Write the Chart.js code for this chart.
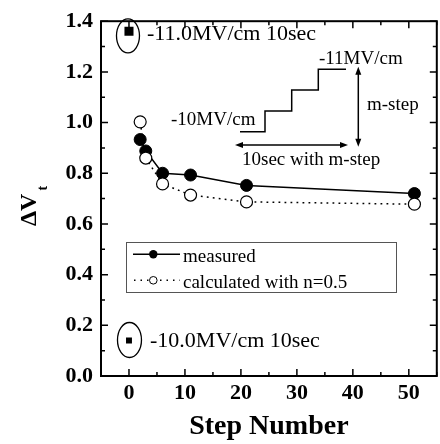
<!DOCTYPE html>
<html><head><meta charset="utf-8">
<style>html,body{margin:0;padding:0;overflow:hidden;background:#fff;} #wrap{width:444px;height:444px;}</style>
<script src="https://cdn.jsdelivr.net/npm/chart.js@4/dist/chart.umd.min.js"></script>
</head><body><div id="wrap"><canvas id="c" width="444" height="444"></canvas></div>
<script>
// ---- data ----
const stepNumbers = [2, 3, 6, 11, 21, 51];
const measured = [0.933, 0.888, 0.800, 0.793, 0.752, 0.720];
const calculated = [1.003, 0.860, 0.758, 0.714, 0.687, 0.678];
const singleStepX = [0, 0];
const singleStepY = [1.36, 0.14];
const xTicks = [0, 10, 20, 30, 40, 50];
const yTicks = [0.0, 0.2, 0.4, 0.6, 0.8, 1.0, 1.2, 1.4];
const xMinorTicks = [-5, 5, 15, 25, 35, 45, 55];
const yMinorTicks = [0.1, 0.3, 0.5, 0.7, 0.9, 1.1, 1.3];
const seriesLabels = ['measured', 'calculated with n=0.5'];
const xTitle = 'Step Number';
const yTitleMain = '\u0394V';
const yTitleSub = 't';
const labelHigh = '-11.0MV/cm 10sec';
const labelLow = '-10.0MV/cm 10sec';
const labelStart = '-10MV/cm';
const labelEnd = '-11MV/cm';
const labelStep = 'm-step';
const labelTime = '10sec with m-step';

const SERIF = "'Liberation Serif', 'Times New Roman', serif";

function arrowHead(ctx, x, y, dx, dy) {
  const L = 8, W = 3;
  const px = -dy, py = dx;
  ctx.beginPath();
  ctx.moveTo(x, y);
  ctx.lineTo(x - dx * L + px * W, y - dy * L + py * W);
  ctx.lineTo(x - dx * L - px * W, y - dy * L - py * W);
  ctx.closePath();
  ctx.fill();
}

const decor = {
  id: 'decor',
  afterDraw(chart) {
    const ctx = chart.ctx;
    const a = chart.chartArea;
    const xs = chart.scales.x, ys = chart.scales.y;
    ctx.save();
    ctx.strokeStyle = '#000';
    ctx.fillStyle = '#000';

    // frame
    ctx.lineWidth = 2;
    ctx.strokeRect(a.left, a.top, a.right - a.left, a.bottom - a.top);

    // inward ticks
    ctx.lineWidth = 1.5;
    const tickSet = (vals, len) => {
      vals.forEach(v => {
        const px = xs.getPixelForValue(v);
        ctx.beginPath();
        ctx.moveTo(px, a.bottom); ctx.lineTo(px, a.bottom - len);
        ctx.moveTo(px, a.top); ctx.lineTo(px, a.top + len);
        ctx.stroke();
      });
    };
    tickSet(xTicks, 7);
    tickSet(xMinorTicks, 4);
    const ytickSet = (vals, len) => {
      vals.forEach(v => {
        const py = ys.getPixelForValue(v);
        ctx.beginPath();
        ctx.moveTo(a.left, py); ctx.lineTo(a.left + len, py);
        ctx.moveTo(a.right, py); ctx.lineTo(a.right - len, py);
        ctx.stroke();
      });
    };
    ytickSet(yTicks, 7);
    ytickSet(yMinorTicks, 4);

    // ellipses around the single-step points
    ctx.lineWidth = 1.3;
    const p0x = xs.getPixelForValue(singleStepX[0]);
    const p0y = ys.getPixelForValue(singleStepY[0]);
    ctx.beginPath(); ctx.ellipse(p0x - 1, p0y + 4.5, 11.5, 17, 0, 0, Math.PI * 2); ctx.stroke();
    const p1x = xs.getPixelForValue(singleStepX[1]);
    const p1y = ys.getPixelForValue(singleStepY[1]);
    ctx.beginPath(); ctx.ellipse(p1x + 0.5, p1y - 0.5, 12, 17.5, 0, 0, Math.PI * 2); ctx.stroke();

    // texts
    ctx.textBaseline = 'alphabetic';
    ctx.textAlign = 'left';
    ctx.font = '22px ' + SERIF;
    ctx.fillText(labelHigh, 147, 40);
    ctx.fillText(labelLow, 150, 346.5);
    ctx.font = '19px ' + SERIF;
    ctx.fillText(labelStart, 171, 125);
    ctx.fillText(labelEnd, 319, 63.5);
    ctx.fillText(labelStep, 367, 110);
    ctx.fillText(labelTime, 242, 165);

    // staircase
    ctx.lineWidth = 1.5;
    ctx.beginPath();
    ctx.moveTo(240, 131.7); ctx.lineTo(265, 131.7); ctx.lineTo(265, 111);
    ctx.lineTo(291.7, 111); ctx.lineTo(291.7, 90);
    ctx.lineTo(318.3, 90); ctx.lineTo(318.3, 69.3);
    ctx.lineTo(346, 69.3);
    ctx.stroke();

    // arrows
    ctx.lineWidth = 1.5;
    ctx.beginPath(); ctx.moveTo(358.3, 70); ctx.lineTo(358.3, 143); ctx.stroke();
    arrowHead(ctx, 358.3, 66.7, 0, -1);
    arrowHead(ctx, 358.3, 146.7, 0, 1);
    ctx.beginPath(); ctx.moveTo(238, 145); ctx.lineTo(345, 145); ctx.stroke();
    arrowHead(ctx, 235, 145, -1, 0);
    arrowHead(ctx, 348, 145, 1, 0);

    // legend box
    ctx.lineWidth = 1;
    ctx.strokeStyle = '#555';
    ctx.strokeRect(126.5, 242.5, 270, 50);
    ctx.strokeStyle = '#000';
    ctx.lineWidth = 1.5;
    ctx.beginPath(); ctx.moveTo(133, 254.3); ctx.lineTo(180, 254.3); ctx.stroke();
    ctx.beginPath(); ctx.arc(153.3, 254.3, 4.2, 0, Math.PI * 2); ctx.fill();
    ctx.setLineDash([1.5, 5]);
    ctx.beginPath(); ctx.moveTo(134, 280.3); ctx.lineTo(180, 280.3); ctx.stroke();
    ctx.setLineDash([]);
    ctx.fillStyle = '#fff';
    ctx.lineWidth = 1;
    ctx.beginPath(); ctx.arc(153.3, 280.3, 3.8, 0, Math.PI * 2); ctx.fill(); ctx.stroke();
    ctx.fillStyle = '#000';
    ctx.font = '19px ' + SERIF;
    ctx.fillText(seriesLabels[0], 183, 262);
    ctx.fillText(seriesLabels[1], 183, 287.5);

    // y title
    ctx.save();
    ctx.translate(36, 226);
    ctx.rotate(-Math.PI / 2);
    ctx.font = 'bold 24px ' + SERIF;
    ctx.fillText(yTitleMain, 0, 0);
    const w = ctx.measureText(yTitleMain).width;
    ctx.font = 'bold 14px ' + SERIF;
    ctx.fillText(yTitleSub, w + 3, 10.5);
    ctx.restore();

    ctx.restore();
  }
};

const tickFont = {family: SERIF, size: 22, weight: 'bold'};

new Chart(document.getElementById('c'), {
  type: 'scatter',
  data: {
    datasets: [
      {
        label: seriesLabels[1],
        data: stepNumbers.map((x, i) => ({x, y: calculated[i]})),
        showLine: true,
        borderColor: '#000',
        borderWidth: 1.5,
        borderDash: [1.8, 4.2],
        pointRadius: 6,
        pointBorderWidth: 1.2,
        pointBackgroundColor: '#fff',
        pointBorderColor: '#000',
        order: 0
      },
      {
        label: seriesLabels[0],
        data: stepNumbers.map((x, i) => ({x, y: measured[i]})),
        showLine: true,
        borderColor: '#000',
        borderWidth: 1.5,
        pointRadius: 6,
        pointBorderWidth: 1,
        pointBackgroundColor: '#000',
        pointBorderColor: '#000',
        order: 1
      },
      {
        label: 'single step',
        data: singleStepX.map((x, i) => ({x, y: singleStepY[i]})),
        showLine: false,
        pointStyle: 'rect',
        pointRadius: [6.4, 4.2],
        pointBorderWidth: 0,
        pointBackgroundColor: '#000',
        pointBorderColor: '#000',
        order: 2
      }
    ]
  },
  options: {
    responsive: false,
    animation: false,
    devicePixelRatio: 1,
    layout: {padding: {top: 16, right: 2, left: 0, bottom: 0}},
    plugins: {legend: {display: false}, tooltip: {enabled: false}},
    scales: {
      x: {
        type: 'linear', min: -5, max: 55,
        afterBuildTicks: s => { s.ticks = xTicks.map(v => ({value: v})); },
        afterFit: s => { s.height = 68; },
        grid: {display: false, drawTicks: false},
        border: {display: false},
        ticks: {padding: 4, font: tickFont, color: '#000', autoSkip: false, maxRotation: 0, callback: v => String(v)},
        title: {display: true, text: xTitle, color: '#000', font: {family: SERIF, size: 28, weight: 'bold'}, padding: {top: 0, bottom: 0}}
      },
      y: {
        type: 'linear', min: 0, max: 1.4,
        afterBuildTicks: s => { s.ticks = yTicks.map(v => ({value: v})); },
        afterFit: s => { s.width = 101; },
        grid: {display: false, drawTicks: false},
        border: {display: false},
        ticks: {padding: 8, font: tickFont, color: '#000', autoSkip: false, callback: v => Number(v).toFixed(1)}
      }
    }
  },
  plugins: [decor]
});
</script>
</body></html>
